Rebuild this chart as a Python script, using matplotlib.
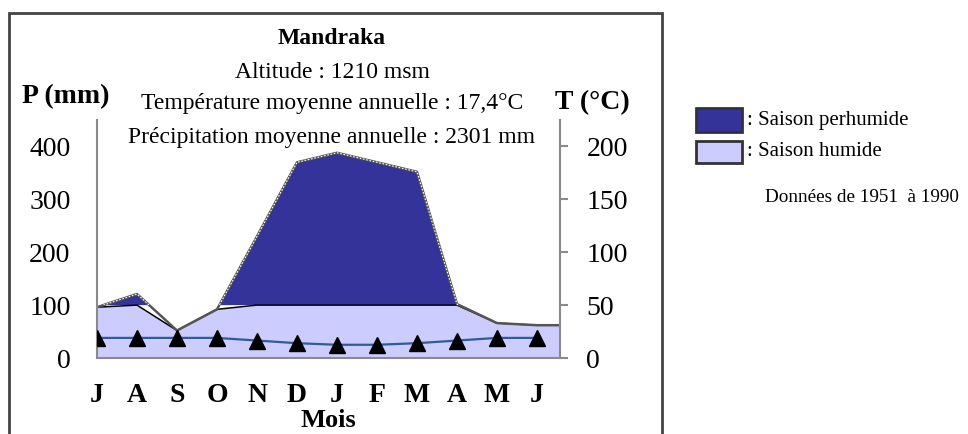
import matplotlib.pyplot as plt
from matplotlib.patches import Rectangle
import numpy as np

plt.rcParams['font.family'] = ['Liberation Serif', 'DejaVu Serif']

months = ['J', 'A', 'S', 'O', 'N', 'D', 'J', 'F', 'M', 'A', 'M', 'J']
precip = [96, 121, 52, 92, 230, 370, 388, 370, 352, 102, 66, 62]   # mm
temp = [19, 19, 19, 19, 16.5, 14, 12.5, 12.5, 14, 16.5, 19, 19]    # degC
p_ticks = [0, 100, 200, 300, 400]
t_ticks = [0, 50, 100, 150, 200]

W, H = 968, 434
dark = '#333399'
light = '#ccccff'
grey = '#8a8a8a'


def fx(px):
    return px / W


def fy(py):
    return 1 - py / H


fig = plt.figure(figsize=(W / 100, H / 100), dpi=100)
ax = fig.add_axes([fx(97), fy(358), fx(560) - fx(97), fy(120) - fy(358)])

x = np.arange(len(months))
xmax = len(months) - 1 + 0.575
xe = np.append(x, xmax)
pe = np.append(precip, precip[-1])
humid = np.minimum(pe, 100)

ax.fill_between(xe, 0, humid, color=light, lw=0)
ax.fill_between(xe, 100, pe, where=pe > 100, interpolate=True, color=dark, lw=0)
ax.plot(xe, humid, color='black', lw=1.1)
ax.plot(xe, pe, color='#555555', lw=1.8)
# dotted white edge along the perhumid part
dots, = ax.plot(xe, pe, color='white', lw=0.8, ls=(0, (1.5, 1.5)))
clip = Rectangle((0, 100), xmax, 400, transform=ax.transData)
dots.set_clip_path(clip)

ax.set_xlim(0, xmax)
ax.set_ylim(0, 450)
ax.set_xticks(x)
ax.set_xticklabels(months, fontsize=20, fontweight='bold')
ax.set_yticks(p_ticks)
ax.tick_params(axis='y', length=0, pad=19, labelsize=20)
ax.tick_params(axis='x', length=0, pad=18)
for s in ['top', 'right']:
    ax.spines[s].set_visible(False)
for s in ['left', 'bottom']:
    ax.spines[s].set_color(grey)
    ax.spines[s].set_linewidth(1.5)

ax2 = ax.twinx()
ax2.set_ylim(0, 225)
ax2.set_yticks(t_ticks)
ax2.tick_params(axis='y', length=6, width=1.5, color=grey, pad=13, labelsize=20)
ax2.plot(x, temp, color='#2f5b9a', lw=1.6, marker='^', ms=11,
         mfc='black', mec='black', zorder=5)
for s in ['top', 'left', 'bottom']:
    ax2.spines[s].set_visible(False)
ax2.spines['right'].set_color(grey)
ax2.spines['right'].set_linewidth(1.5)

# header
cx = fx(332)
fig.text(cx, fy(38), 'Mandraka', ha='center', va='center', fontsize=17, fontweight='bold')
fig.text(cx, fy(72), 'Altitude : 1210 msm', ha='center', va='center', fontsize=17)
fig.text(cx, fy(103), 'Température moyenne annuelle : 17,4°C', ha='center', va='center', fontsize=17)
fig.text(cx, fy(137), 'Précipitation moyenne annuelle : 2301 mm', ha='center', va='center', fontsize=17)
fig.text(fx(22), fy(97), 'P (mm)', ha='left', va='center', fontsize=20, fontweight='bold')
fig.text(fx(630), fy(103), 'T (°C)', ha='right', va='center', fontsize=20, fontweight='bold')
fig.text(fx(328), fy(432), 'Mois', ha='center', va='bottom', fontsize=19, fontweight='bold')

# frame around the diagram
fig.add_artist(Rectangle((fx(9), fy(440)), fx(662) - fx(9), fy(13) - fy(440),
                         transform=fig.transFigure, fill=False, ec='#444444', lw=2))

# legend
for top, bottom, fc, label in [(108, 132, dark, ': Saison perhumide'),
                               (141, 163, light, ': Saison humide')]:
    fig.add_artist(Rectangle((fx(696), fy(bottom)), fx(742) - fx(696), (bottom - top) / H,
                             transform=fig.transFigure, fc=fc, ec='#333333', lw=2))
    fig.text(fx(747), fy((top + bottom) / 2), label, ha='left', va='center', fontsize=15)
fig.text(fx(765), fy(197), 'Données de 1951  à 1990', ha='left', va='center', fontsize=13.8)

fig.savefig('out.png', dpi=100)
